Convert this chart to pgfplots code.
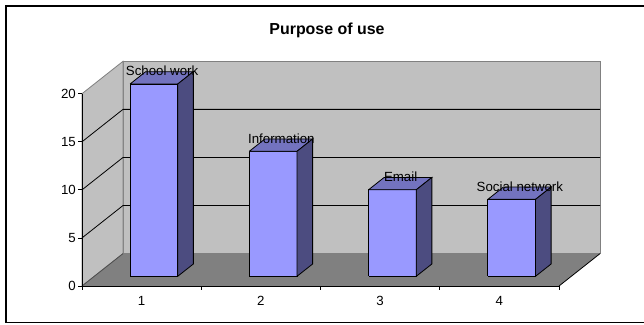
\documentclass[border=0pt]{standalone}
\usepackage{fontspec}
\setmainfont{Liberation Sans}
\usepackage{pgfplots}
\pgfplotsset{compat=1.18}
\definecolor{wall}{RGB}{192,192,192}
\definecolor{floorc}{RGB}{128,128,128}
\definecolor{barfront}{RGB}{153,153,255}
\definecolor{bartop}{RGB}{115,115,191}
\definecolor{barside}{RGB}{76,76,128}
\tikzset{tl/.style={inner sep=0pt, font=\fontsize{13.33}{15}\selectfont}}
\begin{document}
\begin{tikzpicture}[x=1bp,y=1bp]
\fill[white] (0,0) rectangle (644,324);
\begin{scope}
\clip (0,0) rectangle (644,324);
\draw[black, line width=1.3bp] (6,1.5) rectangle (700,318);
\end{scope}
\node[anchor=base, font=\fontsize{16}{18}\selectfont\bfseries] at (327,290) {Purpose of use};
\begin{axis}[
  at={(82bp,38bp)}, anchor=origin,
  x={(119.25bp,0bp)}, y={(41bp,32.4bp)}, z={(0bp,9.615bp)},
  xmin=0, xmax=4, ymin=0, ymax=1, zmin=0, zmax=20,
  hide axis, clip=false, no markers,
  every axis plot/.append style={line width=0.8bp},
]
% walls and floor
\addplot3[fill=wall, draw=floorc] coordinates {(0,1,0) (4,1,0) (4,1,20) (0,1,20) (0,1,0)};
\addplot3[fill=wall, draw=floorc] coordinates {(0,0,0) (0,1,0) (0,1,20) (0,0,20) (0,0,0)};
\addplot3[fill=floorc, draw=none] coordinates {(0,0,0) (4,0,0) (4,1,0) (0,1,0) (0,0,0)};
\addplot3[draw=floorc!60!black] coordinates {(0,0,0) (0,1,0)};
\addplot3[draw=black] coordinates {(4,0,0) (4,1,0)};
% gridlines
\addplot3[draw=black] coordinates {(0,0,5) (0,1,5) (4,1,5)};
\addplot3[draw=black] coordinates {(0,0,10) (0,1,10) (4,1,10)};
\addplot3[draw=black] coordinates {(0,0,15) (0,1,15) (4,1,15)};
% axes
\addplot3[draw=black] coordinates {(0,0,20) (0,0,0) (4,0,0)};
\draw[black, line width=0.8bp] (axis cs:0,0,0) -- ++(-4bp,0);
\draw[black, line width=0.8bp] (axis cs:0,0,5) -- ++(-4bp,0);
\draw[black, line width=0.8bp] (axis cs:0,0,10) -- ++(-4bp,0);
\draw[black, line width=0.8bp] (axis cs:0,0,15) -- ++(-4bp,0);
\draw[black, line width=0.8bp] (axis cs:0,0,20) -- ++(-4bp,0);
\node[tl, anchor=east] at ([xshift=-6bp]axis cs:0,0,0) {0};
\node[tl, anchor=east] at ([xshift=-6bp]axis cs:0,0,5) {5};
\node[tl, anchor=east] at ([xshift=-6bp]axis cs:0,0,10) {10};
\node[tl, anchor=east] at ([xshift=-6bp]axis cs:0,0,15) {15};
\node[tl, anchor=east] at ([xshift=-6bp]axis cs:0,0,20) {20};
\draw[black, line width=0.8bp] (axis cs:0,0,0) -- ++(0,-4bp);
\draw[black, line width=0.8bp] (axis cs:1,0,0) -- ++(0,-4bp);
\draw[black, line width=0.8bp] (axis cs:2,0,0) -- ++(0,-4bp);
\draw[black, line width=0.8bp] (axis cs:3,0,0) -- ++(0,-4bp);
\draw[black, line width=0.8bp] (axis cs:4,0,0) -- ++(0,-4bp);
\node[tl, anchor=north] at ([yshift=-10.5bp]axis cs:0.5,0,0) {1};
\node[tl, anchor=north] at ([yshift=-10.5bp]axis cs:1.5,0,0) {2};
\node[tl, anchor=north] at ([yshift=-10.5bp]axis cs:2.5,0,0) {3};
\node[tl, anchor=north] at ([yshift=-10.5bp]axis cs:3.5,0,0) {4};
% bars: School work 20, Information 13, Email 9, Social network 8
\addplot3[fill=barfront, draw=black] coordinates {(0.3,0.3,0) (0.7,0.3,0) (0.7,0.3,20) (0.3,0.3,20) (0.3,0.3,0)};
\addplot3[fill=bartop, draw=black] coordinates {(0.3,0.3,20) (0.7,0.3,20) (0.7,0.68,20) (0.3,0.68,20) (0.3,0.3,20)};
\addplot3[fill=barside, draw=black] coordinates {(0.7,0.3,0) (0.7,0.68,0) (0.7,0.68,20) (0.7,0.3,20) (0.7,0.3,0)};
\addplot3[fill=barfront, draw=black] coordinates {(1.3,0.3,0) (1.7,0.3,0) (1.7,0.3,13) (1.3,0.3,13) (1.3,0.3,0)};
\addplot3[fill=bartop, draw=black] coordinates {(1.3,0.3,13) (1.7,0.3,13) (1.7,0.68,13) (1.3,0.68,13) (1.3,0.3,13)};
\addplot3[fill=barside, draw=black] coordinates {(1.7,0.3,0) (1.7,0.68,0) (1.7,0.68,13) (1.7,0.3,13) (1.7,0.3,0)};
\addplot3[fill=barfront, draw=black] coordinates {(2.3,0.3,0) (2.7,0.3,0) (2.7,0.3,9) (2.3,0.3,9) (2.3,0.3,0)};
\addplot3[fill=bartop, draw=black] coordinates {(2.3,0.3,9) (2.7,0.3,9) (2.7,0.68,9) (2.3,0.68,9) (2.3,0.3,9)};
\addplot3[fill=barside, draw=black] coordinates {(2.7,0.3,0) (2.7,0.68,0) (2.7,0.68,9) (2.7,0.3,9) (2.7,0.3,0)};
\addplot3[fill=barfront, draw=black] coordinates {(3.3,0.3,0) (3.7,0.3,0) (3.7,0.3,8) (3.3,0.3,8) (3.3,0.3,0)};
\addplot3[fill=bartop, draw=black] coordinates {(3.3,0.3,8) (3.7,0.3,8) (3.7,0.68,8) (3.3,0.68,8) (3.3,0.3,8)};
\addplot3[fill=barside, draw=black] coordinates {(3.7,0.3,0) (3.7,0.68,0) (3.7,0.68,8) (3.7,0.3,8) (3.7,0.3,0)};
% data labels
\node[tl, anchor=base] at ([yshift=1.5bp]axis cs:0.5,0.5,20) {School work};
\node[tl, anchor=base] at ([yshift=1.5bp]axis cs:1.5,0.5,13) {Information};
\node[tl, anchor=base] at ([yshift=1.5bp]axis cs:2.5,0.5,9) {Email};
\node[tl, anchor=base] at ([yshift=1.5bp]axis cs:3.5,0.5,8) {Social network};
\end{axis}
\pgfresetboundingbox
\useasboundingbox (0,0) rectangle (644,324);
\end{tikzpicture}
\end{document}
